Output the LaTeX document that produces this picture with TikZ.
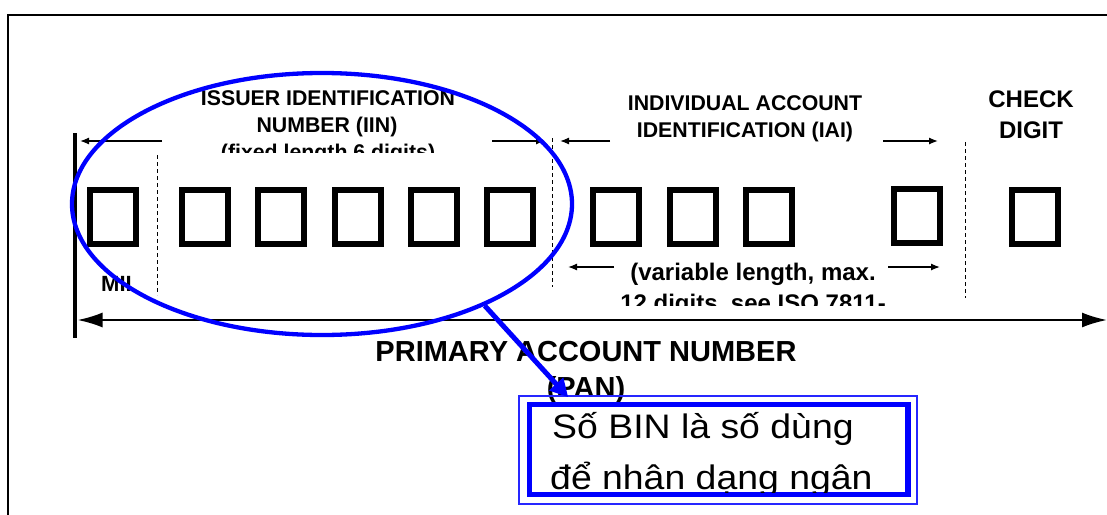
\documentclass[tikz,border=0pt]{standalone}
\usepackage{fontspec}
\setmainfont{Liberation Sans}
\usetikzlibrary{arrows.meta,shapes.geometric}
\begin{document}
\begin{tikzpicture}[x=1pt,y=-1pt,
  digit/.style={draw, line width=6pt, minimum width=46pt, minimum height=54pt, inner sep=0pt},
  lbl/.style={font=\fontsize{#1}{#1}\selectfont\bfseries, inner sep=0pt, anchor=base},
  dimarrow/.style={line width=1.3pt, -{Latex[length=9pt,width=7pt]}},
  sepline/.style={line width=0.9pt, dash pattern=on 4pt off 3pt},
  bigarrow/.style={line width=2pt, {Latex[length=25pt,width=15pt]}-{Latex[length=25pt,width=15pt]}},
  notetext/.style={font=\fontsize{34}{34}\selectfont, anchor=base west, inner sep=0pt},
]
\useasboundingbox (0,0) rectangle (1107,514);
\clip (0,0) rectangle (1107,514);

% outer frame (runs off the right and bottom edges)
\draw[line width=2pt] (8,15) rectangle (1200,600);

% left stop bar
\coordinate (bartop) at (75,133);
\coordinate (barbot) at (75,338);
\draw[line width=4.5pt] (bartop) -- (barbot);

% digit boxes
\foreach \n/\x in {1/113,2/205,3/281,4/357.5,5/433.5,6/509.5,7/616,8/692.5,9/769,11/1035}
  \node[digit] (d\n) at (\x,217) {};
\node[digit] (d10) at (916.5,216) {};

% dashed separators
\coordinate (s1a) at (157,155);  \coordinate (s1b) at (157,295);
\coordinate (s2a) at (552.5,138);\coordinate (s2b) at (552.5,287);
\coordinate (s3a) at (965,142);  \coordinate (s3b) at (965,298);
\draw[sepline] (s1a) -- (s1b);
\draw[sepline] (s2a) -- (s2b);
\draw[sepline] (s3a) -- (s3b);

% dimension arrows
\coordinate (a1s) at (162,141); \coordinate (a1e) at (80,141);
\coordinate (a2s) at (492,141); \coordinate (a2e) at (545,141);
\coordinate (a3s) at (610,141); \coordinate (a3e) at (560,141);
\coordinate (a4s) at (883,141); \coordinate (a4e) at (938,141);
\coordinate (a5s) at (614,267); \coordinate (a5e) at (568,267);
\coordinate (a6s) at (888,267); \coordinate (a6e) at (940,267);
\foreach \k in {1,...,6} \draw[dimarrow] (a\k s) -- (a\k e);

\coordinate (panL) at (77.5,320);
\coordinate (panR) at (1107,320);
\draw[bigarrow] (panL) -- (panR);

% labels
\node[lbl=21.3] (iin1) at (328,105) {ISSUER IDENTIFICATION};
\node[lbl=21.3] (iin2) at (327,132) {NUMBER (IIN)};
\begin{scope}
  \clip (150,60) rectangle (520,152);
  \node[lbl=21.3] (iin3) at (328,159) {(fixed length 6 digits)};
\end{scope}
\node[lbl=21.3] (iai1) at (745,110) {INDIVIDUAL ACCOUNT};
\node[lbl=21.3] (iai2) at (745,137.5) {IDENTIFICATION (IAI)};
\node[lbl=24] (chk1) at (1031,107) {CHECK};
\node[lbl=24] (chk2) at (1031,138) {DIGIT};
\node[lbl=24] (var1) at (753,280) {(variable length, max.};
\begin{scope}
  \clip (600,250) rectangle (920,305);
  \node[lbl=24] (var2) at (753,311) {12 digits, see ISO 7811-};
\end{scope}
\node[lbl=22] (mii) at (116.5,291.5) {MII};
\node[lbl=29] (pan1) at (586,361) {PRIMARY ACCOUNT NUMBER};
\node[lbl=29] (pan2) at (586,397) {(PAN)};

% highlight of the IIN part
\node[draw=blue, line width=4.3pt, ellipse, minimum width=500pt, minimum height=262pt, inner sep=0pt] (iin) at (322,204) {};

% note box
\node[draw=blue, fill=white, line width=5.5pt, minimum width=378.5pt, minimum height=90pt, inner sep=0pt] (binbox) at (718.75,449.5) {};
\draw[blue!85!white, line width=2pt] ([xshift=-7.5pt,yshift=5.5pt]binbox.north west) rectangle ([xshift=6pt,yshift=-6.5pt]binbox.south east);
\begin{scope}
  \clip (533,408) rectangle (905,492);
  \node[notetext] (bin1) at (552,438) {\scalebox{1.1}[1]{Số BIN là số dùng}};
  \node[notetext] (bin2) at (550,489) {\scalebox{1.1}[1]{để nhân dạng ngân}};
\end{scope}

\draw[blue, line width=5pt, -{Triangle[length=18pt,width=18pt]}] (iin.-32.7) -- ([xshift=41.5pt,yshift=4.5pt]binbox.north west);
\end{tikzpicture}
\end{document}
